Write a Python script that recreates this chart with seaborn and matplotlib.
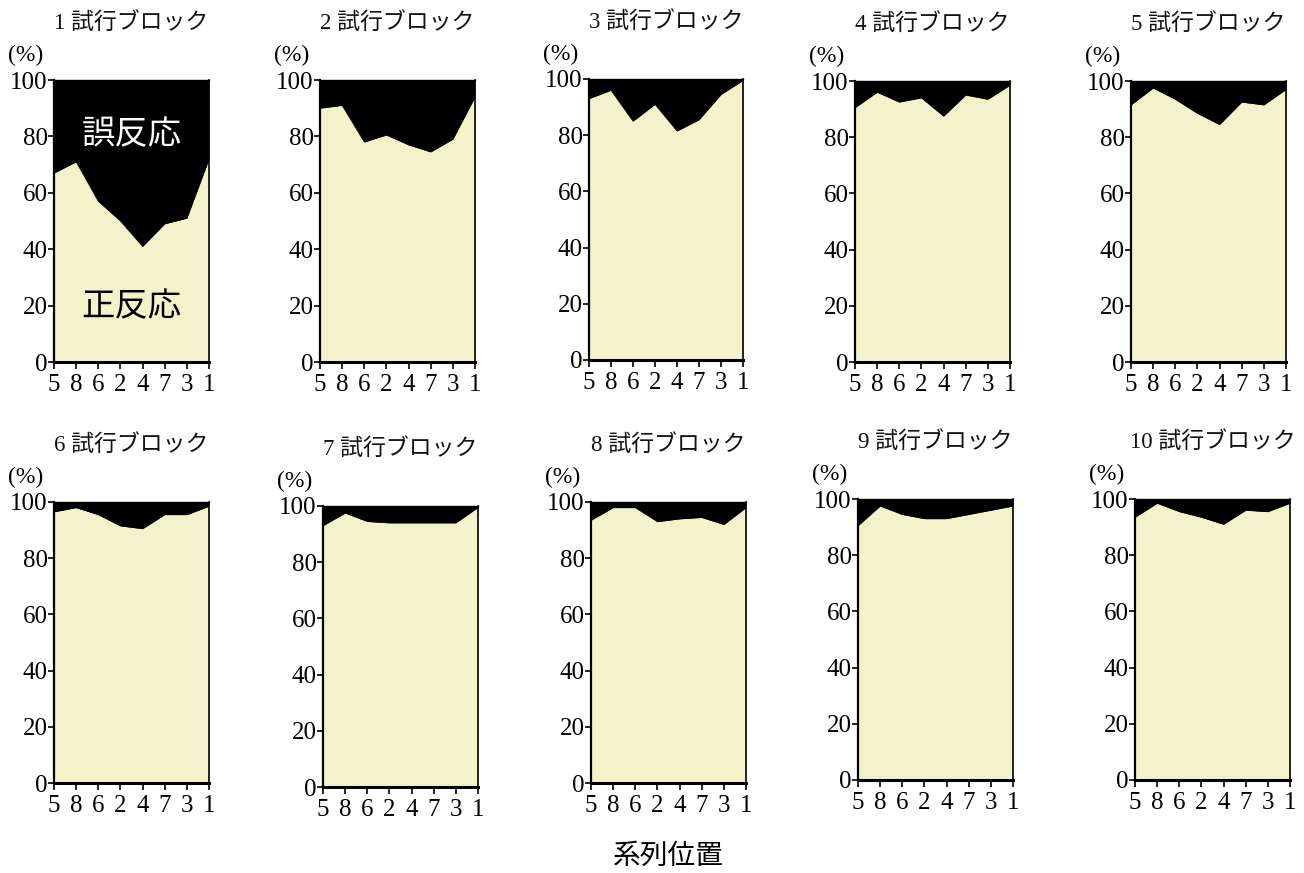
import matplotlib
matplotlib.use("Agg")
import matplotlib.pyplot as plt
import pandas as pd
import seaborn as sns

# Serial positions in presentation order (x axis)
positions = ["5", "8", "6", "2", "4", "7", "3", "1"]
y_ticks = [0, 20, 40, 60, 80, 100]
block_names = [f"{i} 試行ブロック" for i in range(1, 11)]

# Percentage of correct responses per serial position, one list per trial block
block_1 = [67, 71, 57, 50, 41, 49, 51, 72]
block_2 = [90, 91, 78, 80.5, 77, 74.5, 79, 94]
block_3 = [93, 96, 85, 91, 81.5, 85.5, 94.5, 99.5]
block_4 = [90.5, 96, 92.5, 94, 87.5, 95, 93.5, 98.5]
block_5 = [91.5, 97.5, 93.5, 88.5, 84.5, 92.5, 91.5, 97]
block_6 = [96.5, 98, 95.5, 91.5, 90.5, 95.5, 95.5, 98.5]
block_7 = [93, 97.5, 94.5, 94, 94, 94, 94, 99.5]
block_8 = [93.5, 98, 98, 93, 94, 94.5, 92, 98]
block_9 = [90.5, 97.5, 94.5, 93, 93, 94.5, 96, 97.5]
block_10 = [93.5, 98.5, 95.5, 93.5, 91, 96, 95.5, 98.5]
blocks = [block_1, block_2, block_3, block_4, block_5,
          block_6, block_7, block_8, block_9, block_10]

correct_label = "正反応"
error_label = "誤反応"
x_title = "系列位置"
unit_label = "(%)"

# Panel boxes in pixels: left, top, right, bottom
panel_boxes = [
    (54, 80, 209, 362), (320, 80, 475, 362), (589, 79, 743, 360),
    (855, 81, 1010, 362), (1131, 81, 1286, 362),
    (54, 502, 209, 783), (323, 506, 478, 787), (591, 502, 746, 783),
    (858, 499, 1013, 780), (1135, 499, 1290, 780),
]

W, H = 1304, 873
CORRECT_COLOR = "#F3F3CB"
ERROR_COLOR = "#000000"

sns.set_theme(style="ticks")
serif = ["Liberation Serif", "Noto Sans CJK JP"]
plt.rcParams["font.family"] = serif
plt.rcParams["axes.unicode_minus"] = False

fig = plt.figure(figsize=(W / 100, H / 100), dpi=100)
fig.patch.set_facecolor("white")

for k, (vals, name, box) in enumerate(zip(blocks, block_names, panel_boxes)):
    l, t, r, b = box
    ax = fig.add_axes([l / W, 1 - b / H, (r - l) / W, (b - t) / H])
    df = pd.DataFrame({"pos": range(len(positions)), "correct": vals})

    ax.fill_between(df["pos"], 0, df["correct"], color=CORRECT_COLOR, lw=0, zorder=1)
    ax.fill_between(df["pos"], df["correct"], 100, color=ERROR_COLOR, lw=0, zorder=1)
    sns.lineplot(data=df, x="pos", y="correct", ax=ax, color=ERROR_COLOR,
                 lw=0.6, zorder=2, legend=False)

    ax.set_xlim(0, len(positions) - 1)
    ax.set_ylim(0, 100)
    ax.set_xticks(range(len(positions)))
    ax.set_xticklabels(positions)
    ax.set_yticks(y_ticks)
    ax.set_yticklabels([str(v) for v in y_ticks])
    ax.set_xlabel("")
    ax.set_ylabel("")
    ax.set_facecolor(CORRECT_COLOR)

    for side in ["left", "right", "top"]:
        ax.spines[side].set_visible(True)
        ax.spines[side].set_color("black")
    ax.spines["left"].set_linewidth(1.6)
    ax.spines["bottom"].set_linewidth(2.2)
    ax.spines["bottom"].set_color("black")
    ax.spines["right"].set_linewidth(1.2)
    ax.spines["top"].set_linewidth(1.0)

    ax.tick_params(axis="y", direction="out", length=4, width=1.2, pad=0.5,
                   labelsize=18, colors="black", right=False)
    ax.tick_params(axis="x", direction="out", length=5, width=1.2, pad=3.5,
                   labelsize=18, colors="black", top=False)
    for lab in ax.get_xticklabels() + ax.get_yticklabels():
        lab.set_fontfamily(serif)

    # Block title and unit label
    ax.text(0.5, (b - t + 57) / (b - t), name, transform=ax.transAxes,
            ha="center", va="center", fontsize=16.5, family=serif, color="#111111")
    ax.text(-11 / (r - l), (b - t + 25) / (b - t), unit_label, transform=ax.transAxes,
            ha="right", va="center", fontsize=17, family=serif, color="black")

    if k == 0:
        ax.text(3.5, 80.5, error_label, ha="center", va="center", fontsize=24,
                family=["Noto Sans CJK JP"], color="white", zorder=3)
        ax.text(3.5, 19.5, correct_label, ha="center", va="center", fontsize=24,
                family=["Noto Sans CJK JP"], color="black", zorder=3)

fig.text(668 / W, 1 - 856 / H, x_title, ha="center", va="center", fontsize=20,
         family=["Noto Sans CJK JP"], color="black")

fig.savefig("out.png", dpi=100, facecolor="white")
